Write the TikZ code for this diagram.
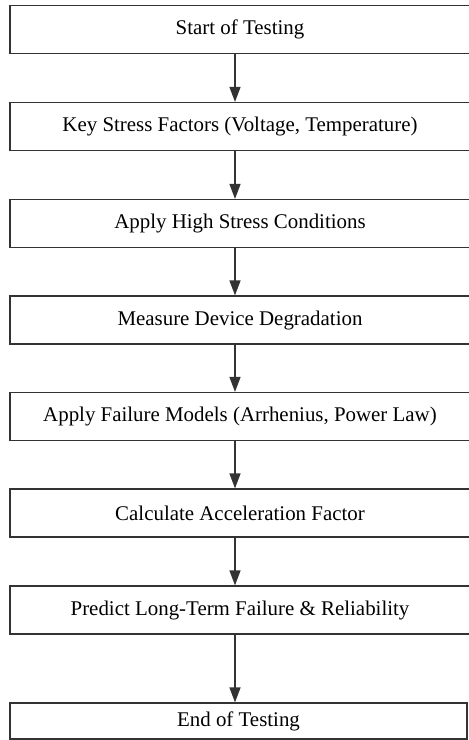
\documentclass[tikz,border=0pt]{standalone}
\usepackage{fontspec}
\setmainfont{Liberation Serif}
\usetikzlibrary{arrows.meta}

\begin{document}
\begin{tikzpicture}[
  x=0.5pt,
  y=-0.5pt,
  line cap=butt,
  line join=miter,
  every node/.style={font=\fontsize{10.45}{12.5}\selectfont},
  stepbox/.style={draw=black!80, line width=0.6pt, minimum width=230pt,
    minimum height=24pt, inner sep=0pt},
  flow/.style={draw=black!80, line width=0.65pt,
    -{Triangle[length=7.5pt,width=5.5pt]}}
]
  \useasboundingbox (0,0) rectangle (468,740);

  % Schritte
  \node[stepbox] (start)   at (240,29.5)  {Start of Testing};
  \node[stepbox] (factors) at (240,126.5) {Key Stress Factors (Voltage, Temperature)};
  \node[stepbox] (stress)  at (240,223.5) {Apply High Stress Conditions};
  \node[stepbox] (measure) at (240,320)   {Measure Device Degradation};
  \node[stepbox] (models)  at (240,416.5) {Apply Failure Models (Arrhenius, Power Law)};
  \node[stepbox] (accel)   at (240,513)   {Calculate Acceleration Factor};
  \node[stepbox] (predict) at (240,610)   {Predict Long-Term Failure \& Reliability};
  \node[stepbox, minimum width=228.5pt, minimum height=18pt]
    (finish) at (238.5,721) {End of Testing};

  % Pfeile
  \draw[flow] ([xshift=-2.5pt]start.south)   -- ([xshift=-2.5pt]factors.north);
  \draw[flow] ([xshift=-2.5pt]factors.south) -- ([xshift=-2.5pt]stress.north);
  \draw[flow] ([xshift=-2.5pt]stress.south)  -- ([xshift=-2.5pt]measure.north);
  \draw[flow] ([xshift=-2.5pt]measure.south) -- ([xshift=-2.5pt]models.north);
  \draw[flow] ([xshift=-2.5pt]models.south)  -- ([xshift=-2.5pt]accel.north);
  \draw[flow] ([xshift=-2.5pt]accel.south)   -- ([xshift=-2.5pt]predict.north);
  \draw[flow] ([xshift=-2.5pt]predict.south) -- ([xshift=-1.75pt]finish.north);
\end{tikzpicture}
\end{document}
